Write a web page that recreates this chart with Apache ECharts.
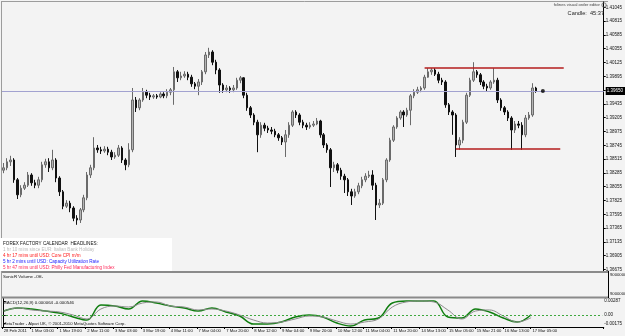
<!DOCTYPE html>
<html><head><meta charset="utf-8">
<script src="https://cdn.jsdelivr.net/npm/echarts@6/dist/echarts.min.js"></script>
<style>html,body{margin:0;padding:0;background:#f3f3f3}#c{width:625px;height:336px}</style>
</head><body><div id="c"></div>
<script>
// ---------- data ----------
const timeLabels = ['28 Feb 2011','1 Mar 03:00','1 Mar 19:00','2 Mar 11:00','3 Mar 03:00','3 Mar 19:00','4 Mar 11:00','7 Mar 04:00','7 Mar 20:00','8 Mar 12:00','9 Mar 04:00','9 Mar 20:00','10 Mar 12:00','11 Mar 04:00','11 Mar 20:00','14 Mar 13:00','15 Mar 05:00','15 Mar 21:00','16 Mar 13:00','17 Mar 05:00'];
const priceTicks = [1.41045,1.40815,1.40585,1.40355,1.40125,1.39895,1.39665,1.39435,1.39205,1.38975,1.38745,1.38515,1.38285,1.38055,1.37825,1.37595,1.37365,1.37135,1.36905,1.36675];
const macdTicks = [0.00287, 0, -0.00175];
const firstOpen = 1.3833;
const closes = [1.3837,1.3847,1.3850,1.3817,1.3792,1.3803,1.3808,1.3825,1.3812,1.3808,
1.3817,1.3842,1.3847,1.3837,1.3850,1.3820,1.3797,1.3773,1.3778,1.3770,
1.3753,1.3750,1.3767,1.3787,1.3825,1.3837,1.3870,1.3867,1.3865,1.3868,
1.3863,1.3855,1.3858,1.3870,1.3850,1.3842,1.3867,1.3950,1.3937,1.3950,
1.3963,1.3958,1.3955,1.3957,1.3955,1.3960,1.3957,1.3963,1.3967,1.3997,
1.3987,1.3990,1.3993,1.3988,1.3977,1.3973,1.3980,1.3997,1.4025,1.4030,
1.4013,1.4000,1.3975,1.3967,1.3970,1.3967,1.3970,1.3983,1.3987,1.3958,
1.3937,1.3925,1.3913,1.3892,1.3908,1.3903,1.3900,1.3898,1.3892,1.3887,
1.3880,1.3892,1.3908,1.3930,1.3925,1.3913,1.3908,1.3905,1.3908,1.3910,
1.3915,1.3892,1.3875,1.3867,1.3837,1.3842,1.3833,1.3823,1.3817,1.3797,
1.3790,1.3797,1.3807,1.3817,1.3823,1.3825,1.3808,1.3775,1.3778,1.3817,
1.3850,1.3883,1.3905,1.3920,1.3930,1.3925,1.3933,1.3957,1.3963,1.3967,
1.3970,1.3988,1.3997,1.4000,1.3993,1.3983,1.3980,1.3942,1.3930,1.3925,
1.3875,1.3883,1.3913,1.3958,1.3983,1.3997,1.3992,1.3980,1.3973,1.3970,
1.3980,1.3983,1.3950,1.3937,1.3930,1.3920,1.3900,1.3910,1.3908,1.3892,
1.3920,1.3925,1.3970,1.3965];
const highs = [1.3845,1.3853,1.3857,1.3853,1.3820,1.3808,1.3813,1.3830,1.3828,1.3817,
1.3822,1.3847,1.3852,1.3853,1.3867,1.3853,1.3823,1.3800,1.3783,1.3782,
1.3773,1.3758,1.3770,1.3792,1.3830,1.3842,1.3888,1.3875,1.3872,1.3873,
1.3872,1.3867,1.3863,1.3875,1.3873,1.3853,1.3878,1.3970,1.3955,1.3953,
1.3970,1.3967,1.3962,1.3960,1.3960,1.3963,1.3963,1.3968,1.3970,1.4005,
1.4000,1.3997,1.3998,1.3997,1.3992,1.3980,1.3985,1.4000,1.4030,1.4037,
1.4033,1.4017,1.4003,1.3978,1.3975,1.3973,1.3975,1.3987,1.3990,1.3988,
1.3962,1.3940,1.3928,1.3917,1.3913,1.3912,1.3907,1.3905,1.3902,1.3895,
1.3890,1.3900,1.3913,1.3933,1.3933,1.3928,1.3917,1.3912,1.3913,1.3915,
1.3920,1.3917,1.3895,1.3878,1.3870,1.3847,1.3845,1.3837,1.3827,1.3820,
1.3802,1.3802,1.3812,1.3822,1.3828,1.3832,1.3833,1.3812,1.3785,1.3820,
1.3853,1.3887,1.3908,1.3923,1.3933,1.3933,1.3937,1.3960,1.3968,1.3972,
1.3973,1.3992,1.4003,1.4003,1.4003,1.3997,1.3987,1.3983,1.3945,1.3933,
1.3928,1.3888,1.3917,1.3962,1.3987,1.4013,1.4000,1.3995,1.3983,1.3977,
1.3983,1.4003,1.3987,1.3953,1.3940,1.3933,1.3923,1.3915,1.3915,1.3913,
1.3925,1.3930,1.3978,1.3972];
const lows = [1.3828,1.3833,1.3840,1.3812,1.3785,1.3788,1.3800,1.3805,1.3807,1.3803,
1.3803,1.3813,1.3837,1.3830,1.3833,1.3813,1.3790,1.3768,1.3770,1.3763,
1.3748,1.3742,1.3745,1.3763,1.3783,1.3820,1.3833,1.3862,1.3860,1.3862,
1.3858,1.3850,1.3852,1.3855,1.3845,1.3833,1.3838,1.3863,1.3930,1.3933,
1.3947,1.3953,1.3950,1.3952,1.3952,1.3953,1.3953,1.3953,1.3958,1.3942,
1.3980,1.3983,1.3987,1.3983,1.3972,1.3968,1.3958,1.3975,1.3993,1.4020,
1.4008,1.3993,1.3962,1.3962,1.3963,1.3962,1.3963,1.3967,1.3978,1.3953,
1.3932,1.3920,1.3908,1.3863,1.3887,1.3898,1.3895,1.3893,1.3888,1.3882,
1.3875,1.3855,1.3887,1.3905,1.3920,1.3908,1.3903,1.3900,1.3902,1.3905,
1.3908,1.3887,1.3870,1.3862,1.3805,1.3830,1.3828,1.3817,1.3795,1.3790,
1.3775,1.3787,1.3793,1.3803,1.3813,1.3820,1.3800,1.3750,1.3770,1.3775,
1.3813,1.3847,1.3880,1.3902,1.3917,1.3905,1.3922,1.3908,1.3953,1.3960,
1.3963,1.3967,1.3987,1.3992,1.3990,1.3978,1.3975,1.3937,1.3925,1.3892,
1.3855,1.3867,1.3878,1.3910,1.3955,1.3980,1.3987,1.3975,1.3968,1.3965,
1.3967,1.3977,1.3945,1.3932,1.3925,1.3915,1.3867,1.3895,1.3903,1.3867,
1.3888,1.3917,1.3922,1.3962];
// MACD sampled every 4th bar
const macdMain = [0.00082,0.00144,0.00123,0.00082,0.00041,-0.00041,-0.00103,0.00205,0.00185,0.00123,
0.00287,0.00246,0.00185,0.00144,0.00082,0.00144,0.00062,-0.00021,-0.00185,-0.00185,
-0.00144,-0.00041,0,-0.00041,-0.00164,-0.00226,-0.00103,-0.00062,0.00246,0.00287,
0.00287,0.00287,-0.00041,-0.00062,0.00123,0.00062,-0.00062,-0.00144,0.00006];
const macdSignal = [0.00082,0.00144,0.00103,0.00082,0.00062,0,-0.00082,0.00123,0.00185,0.00164,
0.00246,0.00267,0.00185,0.00164,0.00103,0.00123,0.00082,0,-0.00103,-0.00164,
-0.00144,-0.00082,-0.00021,-0.00041,-0.00123,-0.00185,-0.00144,-0.00082,0.00164,0.00267,
0.00287,0.00267,0.00103,-0.00082,0.00082,0.00103,-0.00021,-0.00144,-0.00055];
const bidPrice = 1.3965;
// trend lines: [fromBar, toBar, price]
const trendLines = [[121, 161, 1.4003], [130, 160, 1.3868]];
const markerPoint = [155, 1.3965];

// ---------- build ----------
const SLOTS = 173, STEP = 8, MACD_STEP = 4;
const cats = [];
for (let i = 0; i < SLOTS; i++) cats.push(i % STEP === 0 && i / STEP < timeLabels.length ? timeLabels[i / STEP] : 'b' + i);
const candleData = closes.map((c, i) => [i === 0 ? firstOpen : closes[i - 1], c, lows[i], highs[i]]);
const showIdx = (i) => i % STEP === 0 && i / STEP < timeLabels.length;
const FONT = 'Liberation Sans';

const chart = echarts.init(document.getElementById('c'), null, {renderer: 'canvas'});
const txt = (text, x, y, size, fill, align) => ({type: 'text', z: 100, style: {text, x, y, fontSize: size, fontFamily: FONT, fill, align: align || 'left', verticalAlign: 'middle'}});

chart.setOption({
  animation: false,
  backgroundColor: '#f3f3f3',
  grid: [
    {left: 2, top: 2, width: 606, height: 270},
    {left: 2, top: 298, width: 606, height: 29}
  ],
  xAxis: [
    {type: 'category', gridIndex: 0, data: cats, boundaryGap: true, position: 'bottom', offset: 55,
      axisLine: {show: true, lineStyle: {color: '#000', width: 1}},
      axisTick: {show: true, interval: (i) => showIdx(i), length: 2, lineStyle: {color: '#000'}},
      axisLabel: {interval: (i) => showIdx(i), align: 'left', fontSize: 4.2, fontFamily: FONT, color: '#111', margin: 2},
      splitLine: {show: false}},
    {type: 'value', gridIndex: 1, min: -0.5, max: SLOTS - 0.5, show: false}
  ],
  yAxis: [
    {type: 'value', gridIndex: 0, position: 'right', min: 1.366333, max: 1.411333, scale: true,
      axisLine: {show: true, lineStyle: {color: '#000'}},
      axisTick: {show: true, length: 2, customValues: priceTicks, lineStyle: {color: '#000'}},
      axisLabel: {customValues: priceTicks, formatter: (v) => v.toFixed(5), fontSize: 4.5, fontFamily: FONT, color: '#111', margin: 2},
      splitLine: {show: false}},
    {type: 'value', gridIndex: 1, position: 'right', min: -0.00246, max: 0.003485,
      axisLine: {show: true, lineStyle: {color: '#000'}},
      axisTick: {show: true, length: 2, customValues: macdTicks, lineStyle: {color: '#000'}},
      axisLabel: {customValues: macdTicks, formatter: (v) => v === 0 ? '0.00' : v.toFixed(5), fontSize: 4.5, fontFamily: FONT, color: '#111', margin: 2},
      splitLine: {show: false}}
  ],
  series: [
    {type: 'candlestick', xAxisIndex: 0, yAxisIndex: 0, data: candleData, barWidth: 2,
      itemStyle: {color: '#b4b4b4', color0: '#111111', borderColor: '#6a6a6a', borderColor0: '#111111', borderWidth: 1},
      markLine: {silent: true, symbol: ['none', 'none'], animation: false, precision: 5,
        data: [
          {yAxis: bidPrice, lineStyle: {color: '#a2a2d0', width: 1.2, type: 'solid'},
            label: {show: true, position: 'end', distance: 2, formatter: (p) => Number(p.value).toFixed(5), color: '#fff', backgroundColor: '#000', fontSize: 4.5, fontFamily: FONT, padding: [1.5, 3, 1.5, 1]}},
          ...trendLines.map(t => [
            {coord: [t[0], t[2]], lineStyle: {color: '#b41c1c', width: 1.6, type: 'solid'}, label: {show: false}},
            {coord: [t[1], t[2]]}
          ])
        ]}},
    {type: 'scatter', xAxisIndex: 0, yAxisIndex: 0, z: 10, data: [markerPoint], symbol: 'circle', symbolSize: 4, itemStyle: {color: '#000', borderWidth: 0}, silent: true},
    {type: 'line', xAxisIndex: 1, yAxisIndex: 1, data: macdMain.map((v, j) => [j * MACD_STEP, v]), smooth: 0.4, showSymbol: false,
      lineStyle: {color: '#0f7d0f', width: 1.5},
      markLine: {silent: true, symbol: ['none', 'none'], precision: 5, data: [{yAxis: 0}], label: {show: false}, lineStyle: {color: '#3ea83e', type: [2, 2], width: 1}}},
    {type: 'line', xAxisIndex: 1, yAxisIndex: 1, data: macdSignal.map((v, j) => [j * MACD_STEP, v]), smooth: 0.4, showSymbol: false,
      lineStyle: {color: '#8c8c8c', width: 1}}
  ],
  graphic: [
    {type: 'line', shape: {x1: 1.5, y1: 1, x2: 1.5, y2: 328}, style: {stroke: '#9c9c9c', lineWidth: 1}},
    {type: 'line', shape: {x1: 1.5, y1: 1.5, x2: 608, y2: 1.5}, style: {stroke: '#9c9c9c', lineWidth: 1}},
    {type: 'rect', shape: {x: 2, y: 271, width: 606, height: 2}, style: {fill: '#8a8a8a'}, z: 50},
    {type: 'rect', shape: {x: 2, y: 296.5, width: 606, height: 2}, style: {fill: '#8a8a8a'}, z: 50},
    {type: 'line', shape: {x1: 608.5, y1: 271, x2: 608.5, y2: 298}, style: {stroke: '#000', lineWidth: 1}},
    {type: 'rect', shape: {x: 0, y: 238, width: 172, height: 33}, style: {fill: '#ffffff'}, z: 40},
    txt('FOREX FACTORY CALENDAR  HEADLINES:', 3, 244, 4.6, '#111'),
    txt('1 hr 10 mins since EUR: Italian Bank Holiday', 3, 250, 4.6, '#bdbdbd'),
    txt('4 hr 17 mins until USD: Core CPI m/m', 3, 256, 4.6, '#ff2020'),
    txt('5 hr 2 mins until USD: Capacity Utilization Rate', 3, 262, 4.6, '#1a1aff'),
    txt('5 hr 47 mins until USD: Philly Fed Manufacturing Index', 3, 268, 4.6, '#ff2a5a'),
    txt('SonicR Volume -Off-', 3, 277, 4.4, '#111'),
    txt('MACD(12,26,9) 0.000064 -0.000546', 3, 303, 4.4, '#111'),
    txt('MetaTrader - Alpari UK, \u00a9 2001-2010 MetaQuotes Software Corp.', 3, 324, 4.2, '#111'),
    txt('fxlines visual order editor', 600, 5, 4.2, '#444', 'right'),
    {type: 'circle', z: 100, shape: {cx: 604, cy: 5, r: 2.2}, style: {fill: 'none', stroke: '#666', lineWidth: 0.8}},
    txt('Candle:  45:37', 604, 13, 5.6, '#222', 'right'),
    txt('9000000', 610, 275, 4.2, '#111'),
    txt('9000000', 610, 294, 4.2, '#111')
  ]
});
</script>
</body></html>
